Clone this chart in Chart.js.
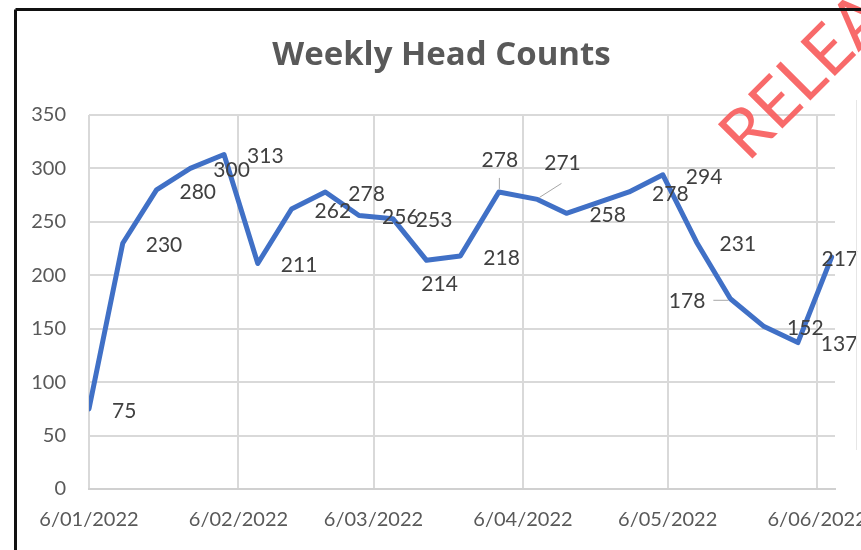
<!DOCTYPE html>
<html><head><meta charset="utf-8">
<script src="https://cdn.jsdelivr.net/npm/chart.js@4.4.1/dist/chart.umd.min.js"></script>
<style>html,body{margin:0;padding:0;background:#fff;overflow:hidden}#wrap{position:relative;width:861px;height:550px}</style>
</head><body><div id="wrap"><canvas id="c"></canvas></div>
<script>
// ---- data ----
const weekDates = ['2022-01-06','2022-01-13','2022-01-20','2022-01-27','2022-02-03','2022-02-10','2022-02-17','2022-02-24',
  '2022-03-03','2022-03-10','2022-03-17','2022-03-24','2022-04-01','2022-04-09','2022-04-15','2022-04-28',
  '2022-05-05','2022-05-12','2022-05-19','2022-05-26','2022-06-02','2022-06-09'];
const headCounts = [75,230,280,300,313,211,262,278,256,253,214,218,278,271,258,278,294,231,178,152,137,217];
const tickDates = ['2022-01-06','2022-02-06','2022-03-06','2022-04-06','2022-05-06','2022-06-06'];
const tickLabels = ['6/01/2022','6/02/2022','6/03/2022','6/04/2022','6/05/2022','6/06/2022'];
const axisStartDate = '2022-01-06';
const axisEndDate = '2022-06-09';
const chartTitle = 'Weekly Head Counts';
const watermarkText = 'RELEASED';

// ---- helpers ----
function dayNum(s){const p=s.split('-').map(Number);const q=axisStartDate.split('-').map(Number);return (Date.UTC(p[0],p[1]-1,p[2])-Date.UTC(q[0],q[1]-1,q[2]))/86400000;}
const tickValues = tickDates.map(dayNum);
const points = weekDates.map((d,i)=>({x:dayNum(d),y:headCounts[i]}));

// label placement style (index -> placement); default 'right'
const labelPlacement = {10:'below',12:'above',13:'aboveRight',18:'left'};

const FONT = 'Lato, "Open Sans", sans-serif';

const framePlugin = {
  id:'frame',
  beforeDraw(chart){
    const ctx=chart.ctx;ctx.save();
    ctx.fillStyle='#ffffff';ctx.fillRect(0,0,chart.width,chart.height);
    ctx.restore();
  },
  afterDraw(chart){
    const ctx=chart.ctx;ctx.save();
    // watermark
    ctx.translate(748,163);ctx.rotate(-Math.PI/4);
    ctx.font='68px Lato, sans-serif';
    ctx.fillStyle='rgba(248,98,98,0.95)';ctx.textBaseline='alphabetic';ctx.textAlign='left';
    ctx.fillText(watermarkText,0,0);
    ctx.restore();
    ctx.save();
    ctx.strokeStyle='#111';ctx.lineWidth=3;
    ctx.beginPath();ctx.moveTo(15.5,9.5);ctx.lineTo(chart.width,9.5);ctx.stroke();
    ctx.beginPath();ctx.moveTo(15.5,9.5);ctx.lineTo(15.5,chart.height);ctx.stroke();
    ctx.strokeStyle='#e6e6e6';ctx.lineWidth=1;
    ctx.beginPath();ctx.moveTo(856.5,100);ctx.lineTo(856.5,450);ctx.stroke();
    ctx.restore();
  }
};

const labelPlugin = {
  id:'pointLabels',
  afterDatasetsDraw(chart){
    const ctx=chart.ctx;const meta=chart.getDatasetMeta(0);
    ctx.save();
    ctx.font='21px '+FONT;ctx.fillStyle='#404040';ctx.textBaseline='middle';
    ctx.strokeStyle='#a6a6a6';ctx.lineWidth=1;
    meta.data.forEach((pt,i)=>{
      const txt=String(headCounts[i]);const w=ctx.measureText(txt).width;
      const px=pt.x,py=pt.y;const place=labelPlacement[i]||'right';
      if(place==='right'){
        let x=px+23; if(x+w>858) x=858-w;
        ctx.textAlign='left';ctx.fillText(txt,x,py+2);
      } else if(place==='below'){
        ctx.textAlign='center';ctx.fillText(txt,px+13,py+24);
      } else if(place==='above'){
        ctx.textAlign='center';ctx.fillText(txt,px+1,py-32);
        ctx.beginPath();ctx.moveTo(px+0.5,py-14);ctx.lineTo(px+0.5,py-3);ctx.stroke();
      } else if(place==='aboveRight'){
        ctx.textAlign='center';ctx.fillText(txt,px+25,py-36);
        ctx.beginPath();ctx.moveTo(px+24,py-16);ctx.lineTo(px+2,py-2);ctx.stroke();
      } else if(place==='left'){
        ctx.textAlign='right';ctx.fillText(txt,px-25,py+2);
        ctx.beginPath();ctx.moveTo(px-17,py+1.5);ctx.lineTo(px-2,py+1.5);ctx.stroke();
      }
    });
    ctx.restore();
  }
};

new Chart(document.getElementById('c'),{
  type:'line',
  data:{datasets:[{label:'Head Count',data:points,borderColor:'#4070C6',borderWidth:5,pointRadius:0,tension:0,
    borderJoinStyle:'round',borderCapStyle:'round',fill:false}]},
  options:{
    responsive:true,maintainAspectRatio:false,animation:false,devicePixelRatio:1,
    layout:{padding:{left:22,right:0,top:10,bottom:0}},
    plugins:{
      legend:{display:false},tooltip:{enabled:false},
      title:{display:true,text:chartTitle,color:'#595959',font:{family:'"Open Sans", Lato, sans-serif',size:33,weight:'bold',lineHeight:1.2},padding:{top:26,bottom:39.4}}
    },
    scales:{
      x:{type:'linear',min:dayNum(axisStartDate),max:dayNum(axisEndDate)+0.7,
        afterBuildTicks(s){s.ticks=tickValues.map(v=>({value:v}));},
        afterFit(s){s.height=61;s.paddingLeft=0;s.paddingRight=26;},
        ticks:{autoSkip:false,maxRotation:0,minRotation:0,padding:19,color:'#595959',font:{family:FONT,size:20},
          callback:(v)=>{const k=tickValues.indexOf(v);return k>=0?tickLabels[k]:'';}},
        grid:{color:'#d9d9d9',lineWidth:2,drawTicks:false},
        border:{display:true,color:'#d0d0d0',width:2}
      },
      y:{min:0,max:350,
        afterFit(s){s.width=67;s.paddingTop=0;s.paddingBottom=0;},
        ticks:{stepSize:50,padding:23,color:'#595959',font:{family:FONT,size:20}},
        grid:{color:'#d9d9d9',lineWidth:2,drawTicks:false},
        border:{display:false}
      }
    }
  },
  plugins:[framePlugin,labelPlugin]
});
</script></body></html>
